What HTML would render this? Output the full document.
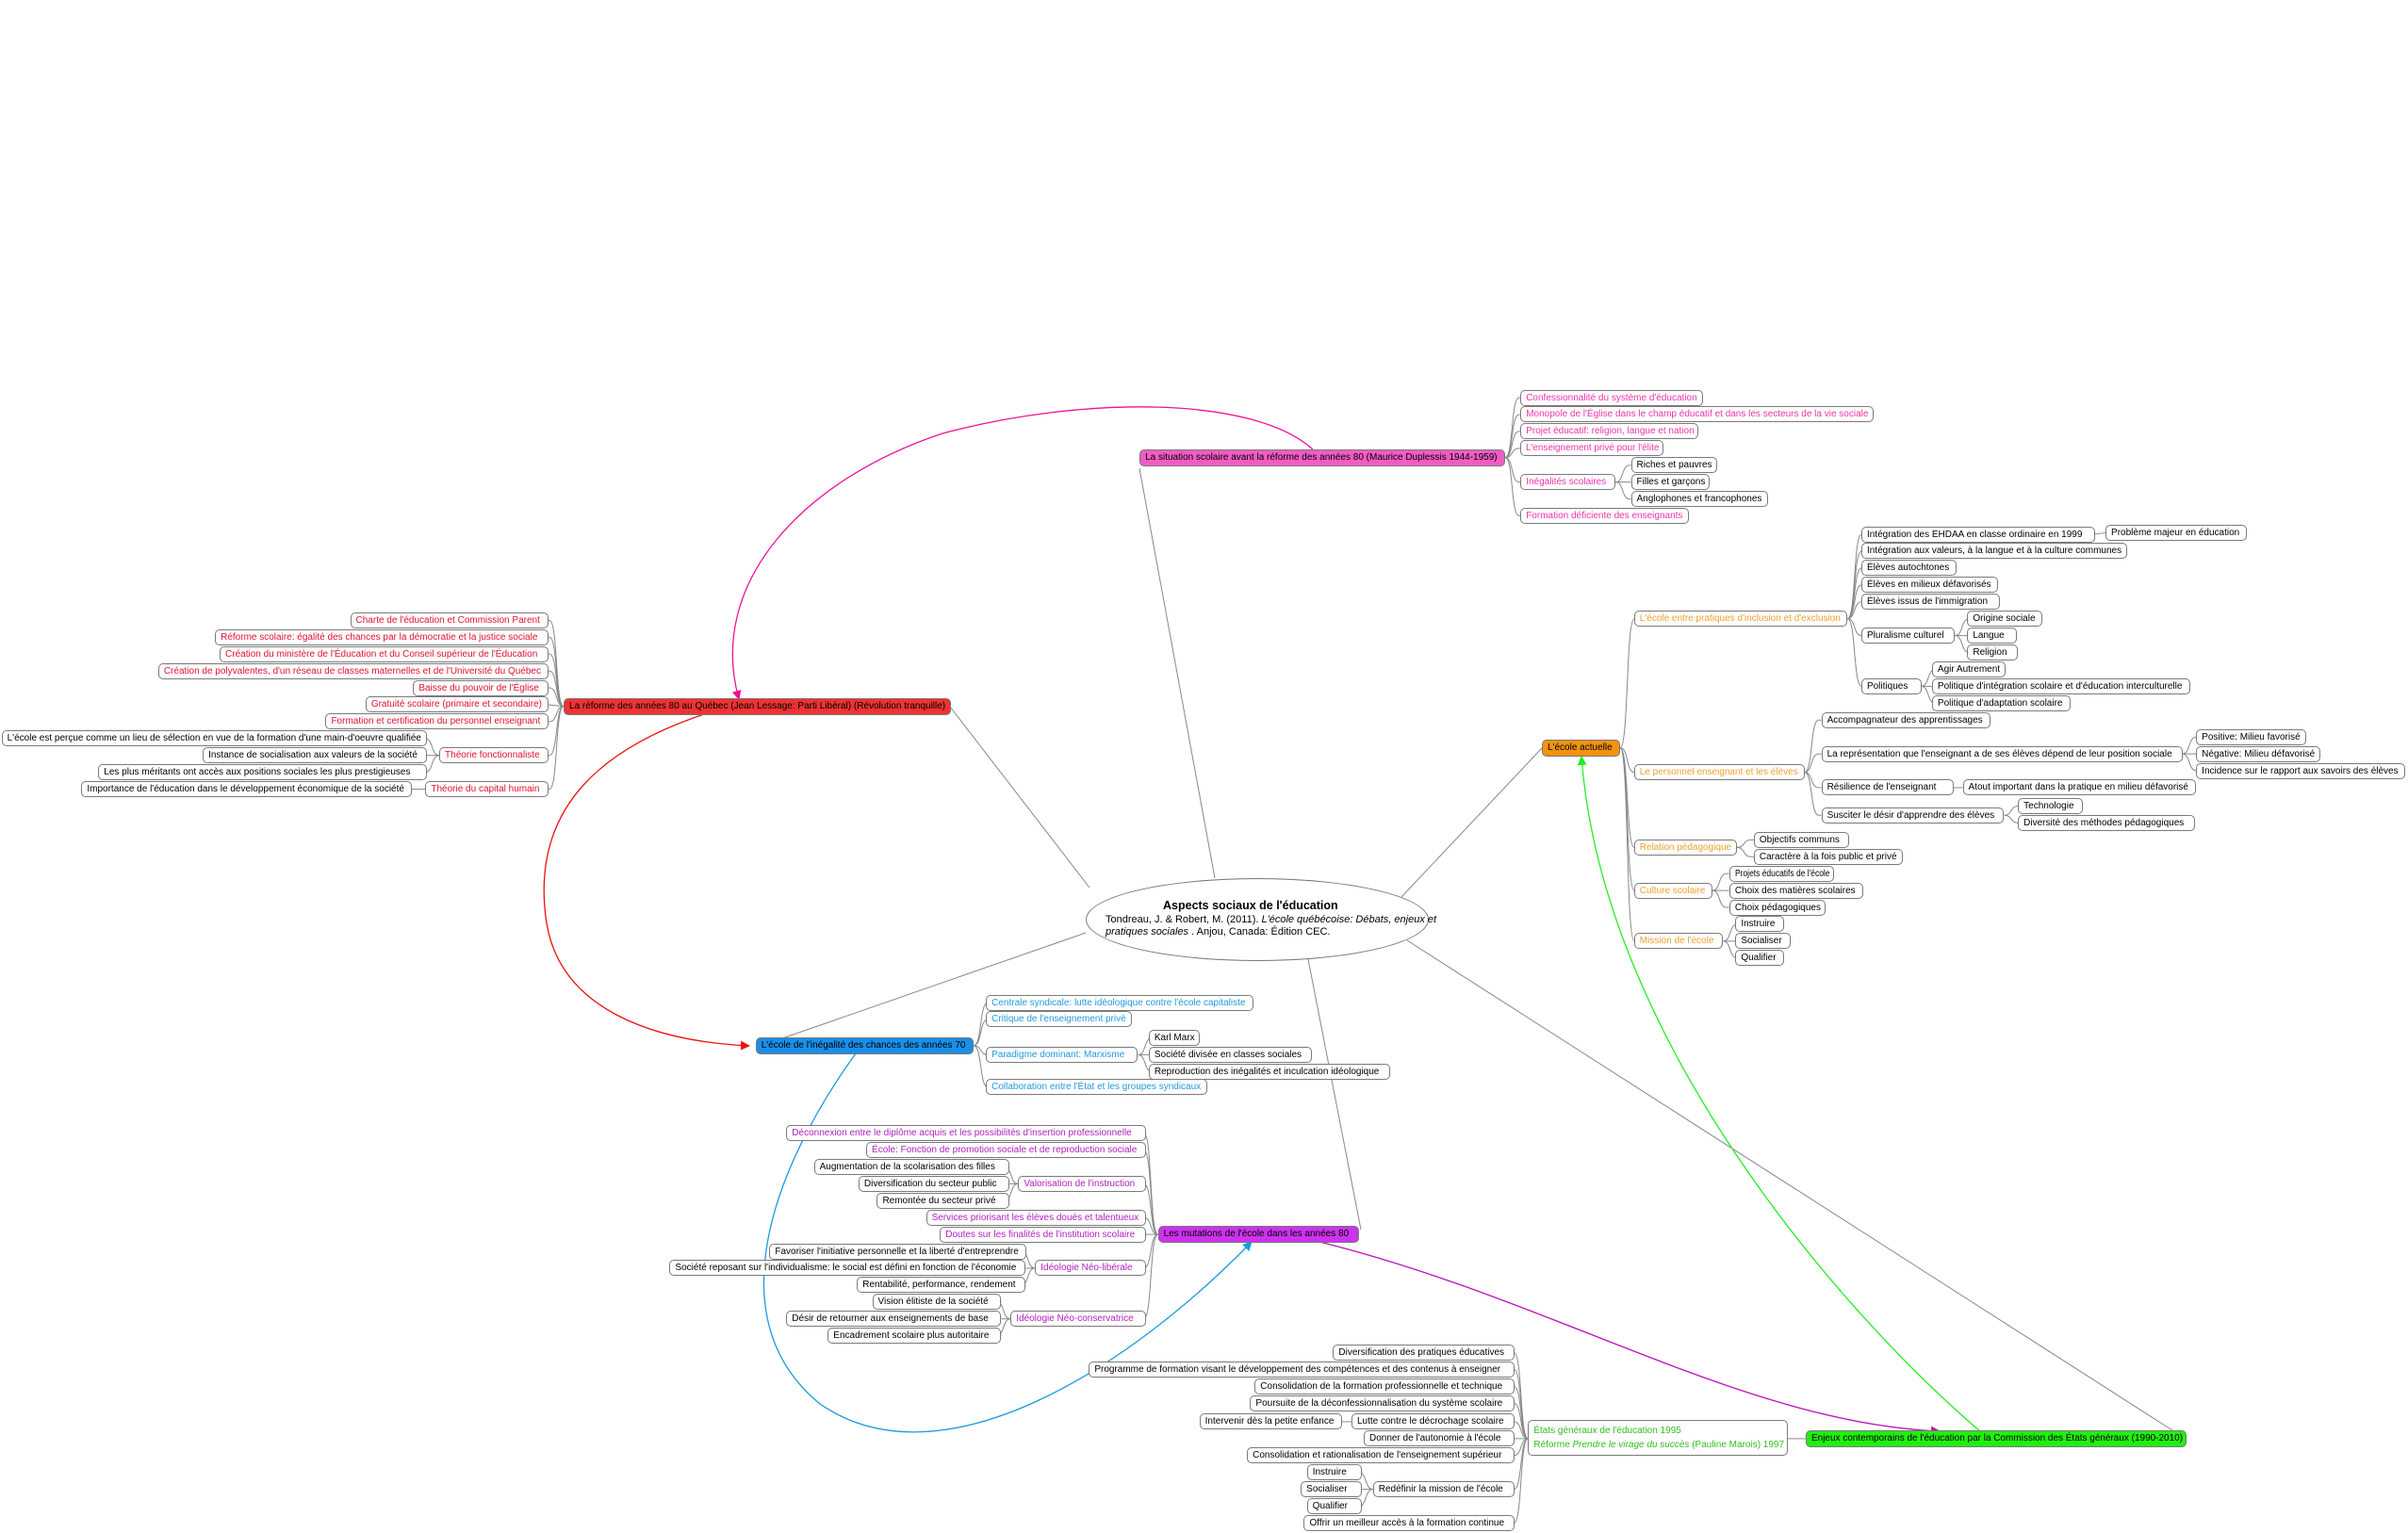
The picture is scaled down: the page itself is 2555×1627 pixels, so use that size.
<!DOCTYPE html>
<html><head><meta charset="utf-8">
<style>
html,body{margin:0;padding:0;background:#fff;}
#root{position:relative;width:2555px;height:1627px;overflow:hidden;font-family:"Liberation Sans",Arial,sans-serif;}
.n{position:absolute;box-sizing:border-box;height:17px;border:1px solid #7a7a7a;border-radius:5px;background:#fff;font-size:10px;line-height:15px;white-space:nowrap;overflow:visible;padding:0 5px;}
.n span{display:inline-block;transform-origin:0 50%;}
.m{border-color:#666;color:#000;height:18px;line-height:16px;}
svg{position:absolute;left:0;top:0;}
#c{position:absolute;left:1152px;top:932px;width:364px;height:88px;border:1px solid #777;border-radius:50%;box-sizing:border-box;background:#fff;}
.ct{position:absolute;font-size:11px;color:#000;white-space:nowrap;}
</style></head>
<body><div id="root">
<svg id="sv" width="2555" height="1627" xmlns="http://www.w3.org/2000/svg">
<defs>
<marker id="a1" markerWidth="10" markerHeight="10" refX="9" refY="5" orient="auto" markerUnits="userSpaceOnUse"><path d="M0,0 L10,5 L0,10 z" fill="#ee1199"/></marker>
<marker id="a2" markerWidth="10" markerHeight="10" refX="9" refY="5" orient="auto" markerUnits="userSpaceOnUse"><path d="M0,0 L10,5 L0,10 z" fill="#ee1111"/></marker>
<marker id="a3" markerWidth="10" markerHeight="10" refX="9" refY="5" orient="auto" markerUnits="userSpaceOnUse"><path d="M0,0 L10,5 L0,10 z" fill="#1a9ae0"/></marker>
<marker id="a4" markerWidth="10" markerHeight="10" refX="9" refY="5" orient="auto" markerUnits="userSpaceOnUse"><path d="M0,0 L10,5 L0,10 z" fill="#bb11bb"/></marker>
<marker id="a5" markerWidth="10" markerHeight="10" refX="9" refY="5" orient="auto" markerUnits="userSpaceOnUse"><path d="M0,0 L10,5 L0,10 z" fill="#22ee22"/></marker>
</defs>
<g id="lines" fill="none" stroke="#888" stroke-width="1"></g>
<g fill="none" stroke-width="1.3">
<path d="M1393,477 C1330,420 1150,420 1000,460 C850,510 750,620 784,742" stroke="#ee1199" marker-end="url(#a1)"/>
<path d="M750,757 C650,790 560,850 580,980 C595,1070 690,1105 795,1110" stroke="#ee1111" marker-end="url(#a2)"/>
<path d="M908,1118 C820,1240 760,1400 870,1490 C1000,1580 1200,1450 1328,1318" stroke="#1a9ae0" marker-end="url(#a3)"/>
<path d="M1400,1318 C1650,1380 1850,1510 2058,1519" stroke="#bb11bb" marker-end="url(#a4)"/>
<path d="M2102,1520 C1950,1390 1700,1100 1678,803" stroke="#22ee22" marker-end="url(#a5)"/>
</g>
</svg>
<div id="c"></div>
<div class="ct" style="left:1234px;top:954px;font-size:12.5px;font-weight:bold;">Aspects sociaux de l'éducation</div>
<div class="ct" style="left:1173px;top:970px;">Tondreau, J. &amp; Robert, M. (2011). <i>L'école québécoise: Débats, enjeux et</i></div>
<div class="ct" style="left:1173px;top:983px;"><i>pratiques sociales</i> . Anjou, Canada: Édition CEC.</div>
</div>
<script>
var S=1.6295,root=document.getElementById('root'),G=document.getElementById('lines');
function box(t,x1,x2,y,col,bg,cls){var d=document.createElement('div');d.className='n'+(cls||'');
var L=x1*S,W=(x2-x1)*S,T=y*S;var h=bg?18:17;d.style.left=L+'px';d.style.top=(T-h/2)+'px';d.style.width=W+'px';
d.style.color=col||'#000';if(bg){d.style.background=bg;d.style.borderColor='#777';d.style.color='#000';}
var s=document.createElement('span');s.textContent=t;d.appendChild(s);root.appendChild(d);
var av=W-10;if(s.offsetWidth>av){s.style.transform='scaleX('+(av/s.offsetWidth)+')';}
return {l:L,r:L+W,y:T};}
function ln(d){var p=document.createElementNS('http://www.w3.org/2000/svg','path');p.setAttribute('d',d);G.appendChild(p);}
function R(a,b){var x0=a.r,x1=b.l,y0=a.y,y1=b.y;if(Math.abs(y1-y0)<2){ln('M'+x0+','+y0+' L'+x1+','+y1);return;}
ln('M'+x0+','+y0+' C'+(x0+9)+','+y0+' '+(x0+6)+','+y1+' '+(x0+15)+','+y1+' L'+x1+','+y1);}
function Lf(a,b){var x0=a.l,x1=b.r,y0=a.y,y1=b.y;if(Math.abs(y1-y0)<2){ln('M'+x0+','+y0+' L'+x1+','+y1);return;}
ln('M'+x0+','+y0+' C'+(x0-9)+','+y0+' '+(x0-6)+','+y1+' '+(x0-15)+','+y1+' L'+x1+','+y1);}
function kidsR(p,arr,col){arr.forEach(function(k){var b=box(k[0],k[1],k[2],k[3],k[5]||col);R(p,b);if(k[4])kidsR(b,k[4],'#000');});}
function kidsL(p,arr,col){arr.forEach(function(k){var b=box(k[0],k[1],k[2],k[3],k[5]||col);Lf(p,b);if(k[4])kidsL(b,k[4],'#000');});}

ln('M1289,932 L1209,497');
ln('M1156,942 L1008,750');
ln('M1152,990 L810,1109');
ln('M1388,1018 L1444,1305');
ln('M1487,952 L1636,794');
ln('M1493,998 L2305,1518');

var PK='#ee33aa';
var p=box('La situation scolaire avant la réforme des années 80 (Maurice Duplessis 1944-1959)',742,980,298,null,'#f25cc4',' m');
kidsR(p,[
['Confessionnalité du système d\'éducation',990,1109,259],
['Monopole de l\'Église dans le champ éducatif et dans les secteurs de la vie sociale',990,1220,270],
['Projet éducatif: religion, langue et nation',990,1106,281],
['L\'enseignement privé pour l\'élite',990,1083,292],
['Inégalités scolaires',990,1052,314,[
 ['Riches et pauvres',1062,1118,303],['Filles et garçons',1062,1113,314],['Anglophones et francophones',1062,1151,325]]],
['Formation déficiente des enseignants',990,1100,336]],PK);

var RD='#e01030';
var r=box('La réforme des années 80 au Québec (Jean Lessage: Parti Libéral) (Révolution tranquille)',367,619,460,null,'#ee3333',' m');
kidsL(r,[
['Charte de l\'éducation et Commission Parent',228,357,404],
['Réforme scolaire: égalité des chances par la démocratie et la justice sociale',140,357,415],
['Création du ministère de l\'Éducation et du Conseil supérieur de l\'Éducation',143,357,426],
['Création de polyvalentes, d\'un réseau de classes maternelles et de l\'Université du Québec',103,357,437],
['Baisse du pouvoir de l\'Église',269,357,448],
['Gratuité scolaire (primaire et secondaire)',238,357,459],
['Formation et certification du personnel enseignant',212,357,470],
['Théorie fonctionnaliste',286,357,492,[
 ['L\'école est perçue comme un lieu de sélection en vue de la formation d\'une main-d\'oeuvre qualifiée',1,278,481],
 ['Instance de socialisation aux valeurs de la société',132,278,492],
 ['Les plus méritants ont accès aux positions sociales les plus prestigieuses',64,278,503]]],
['Théorie du capital humain',277,357,514,[
 ['Importance de l\'éducation dans le développement économique de la société',53,268,514]]]],RD);

var BL='#2299dd';
var b=box('L\'école de l\'inégalité des chances des années 70',492,634,681,null,'#1a8fe8',' m');
kidsR(b,[
['Centrale syndicale: lutte idéologique contre l\'école capitaliste',642,816,653],
['Critique de l\'enseignement privé',642,737,664],
['Paradigme dominant: Marxisme',642,741,687,[
 ['Karl Marx',748,781,676],['Société divisée en classes sociales',748,854,687],['Reproduction des inégalités et inculcation idéologique',748,905,698]]],
['Collaboration entre l\'État et les groupes syndicaux',642,786,708]],BL);

var PU='#b020c0';
var m=box('Les mutations de l\'école dans les années 80',754,885,804,null,'#cc33ee',' m');
kidsL(m,[
['Déconnexion entre le diplôme acquis et les possibilités d\'insertion professionnelle',512,746,738],
['École: Fonction de promotion sociale et de reproduction sociale',564,746,749],
['Valorisation de l\'instruction',663,746,771,[
 ['Augmentation de la scolarisation des filles',530,657,760],['Diversification du secteur public',559,657,771],['Remontée du secteur privé',571,657,782]]],
['Services priorisant les élèves doués et talentueux',603,746,793],
['Doutes sur les finalités de l\'institution scolaire',612,746,804],
['Idéologie Néo-libérale',674,746,826,[
 ['Favoriser l\'initiative personnelle et la liberté d\'entreprendre',501,668,815],
 ['Société reposant sur l\'individualisme: le social est défini en fonction de l\'économie',436,668,826],
 ['Rentabilité, performance, rendement',558,668,837]]],
['Idéologie Néo-conservatrice',658,746,859,[
 ['Vision élitiste de la société',568,652,848],['Désir de retourner aux enseignements de base',512,652,859],['Encadrement scolaire plus autoritaire',539,652,870]]]],PU);

var OR='#f0a030';
var o=box('L\'école actuelle',1004,1055,487,null,'#f39310',' m');
kidsR(o,[
['L\'école entre pratiques d\'inclusion et d\'exclusion',1064,1203,403,[
 ['Intégration des EHDAA en classe ordinaire en 1999',1212,1364,348,[['Problème majeur en éducation',1371,1463,347]]],
 ['Intégration aux valeurs, à la langue et à la culture communes',1212,1385,359],
 ['Élèves autochtones',1212,1274,370],
 ['Élèves en milieux défavorisés',1212,1301,381],
 ['Élèves issus de l\'immigration',1212,1302,392],
 ['Pluralisme culturel',1212,1273,414,[['Origine sociale',1281,1330,403],['Langue',1281,1313,414],['Religion',1281,1314,425]]],
 ['Politiques',1212,1251,447,[['Agir Autrement',1258,1306,436],['Politique d\'intégration scolaire et d\'éducation interculturelle',1258,1426,447],['Politique d\'adaptation scolaire',1258,1348,458]]]]],
['Le personnel enseignant et les élèves',1064,1175,503,[
 ['Accompagnateur des apprentissages',1186,1296,469],
 ['La représentation que l\'enseignant a de ses élèves dépend de leur position sociale',1186,1421,491,[
  ['Positive: Milieu favorisé',1430,1502,480],['Négative: Milieu défavorisé',1430,1511,491],['Incidence sur le rapport aux savoirs des élèves',1430,1566,502]]],
 ['Résilience de l\'enseignant',1186,1272,513,[['Atout important dans la pratique en milieu défavorisé',1278,1430,513]]],
 ['Susciter le désir d\'apprendre des élèves',1186,1305,531,[['Technologie',1314,1356,525],['Diversité des méthodes pédagogiques',1314,1429,536]]]]],
['Relation pédagogique',1064,1131,552,[['Objectifs communs',1142,1204,547],['Caractère à la fois public et privé',1142,1239,558]]],
['Culture scolaire',1064,1115,580,[['Projets éducatifs de l\'école',1126,1194,569],['Choix des matières scolaires',1126,1213,580],['Choix pédagogiques',1126,1189,591]]],
['Mission de l\'école',1064,1122,613,[['Instruire',1130,1162,602],['Socialiser',1130,1166,613],['Qualifier',1130,1162,624]]]],OR);

var g=box('Enjeux contemporains de l\'éducation par la Commission des États généraux (1990-2010)',1176,1424,937,null,'#22ee11',' m');
var gd=document.createElement('div');gd.className='n';
gd.style.cssText='left:'+(995*S)+'px;top:'+(925*S)+'px;width:'+(169*S)+'px;height:'+(23*S)+'px;color:#33bb22;line-height:15px;padding-top:3px;';
gd.innerHTML='États généraux de l\'éducation 1995<br>Réforme <i>Prendre le virage du succès</i> (Pauline Marois) 1997';
root.appendChild(gd);
var gm={l:995*S,r:1164*S,y:937*S};
ln('M'+gm.r+','+gm.y+' L'+g.l+','+g.y);
kidsL(gm,[
['Diversification des pratiques éducatives',868,986,881],
['Programme de formation visant le développement des compétences et des contenus à enseigner',709,986,892],
['Consolidation de la formation professionnelle et technique',817,986,903],
['Poursuite de la déconfessionnalisation du système scolaire',814,986,914],
['Lutte contre le décrochage scolaire',880,986,926,[['Intervenir dès la petite enfance',781,874,926]]],
['Donner de l\'autonomie à l\'école',888,986,937],
['Consolidation et rationalisation de l\'enseignement supérieur',812,986,948],
['Redéfinir la mission de l\'école',894,986,970,[['Instruire',851,887,959],['Socialiser',847,887,970],['Qualifier',851,887,981]]],
['Offrir un meilleur accès à la formation continue',849,986,992]],'#000');
</script>
</body></html>
